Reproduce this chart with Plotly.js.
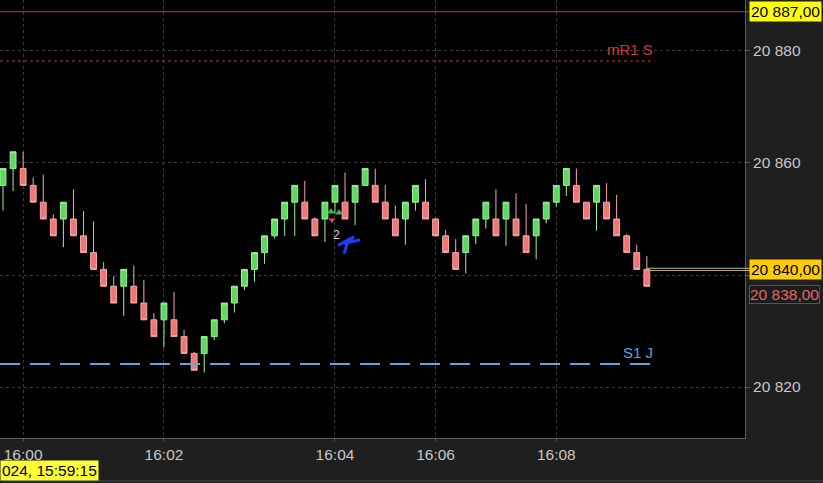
<!DOCTYPE html>
<html><head><meta charset="utf-8">
<script src="https://cdn.plot.ly/plotly-3.0.1.min.js"></script>
<style>html,body{margin:0;padding:0;background:#1f1f1f;overflow:hidden}#chart{width:823px;height:483px;}</style>
</head><body><div id="chart"></div>
<script>
// Renko-style bricks (3 points)
const openP  = [20856,20859,20859,20856,20853,20850,20850,20850,20847,20844,20841,20838,20838,20838,20835,20832,20832,20832,20829,20826,
                20826,20829,20832,20835,20838,20841,20844,20847,20850,20853,20853,20850,20850,20853,20853,20853,20856,20856,20853,20850,
                20850,20853,20853,20850,20847,20844,20844,20847,20850,20850,20850,20850,20847,20847,20850,20853,20856,20856,20853,20853,
                20853,20850,20847,20844,20841];
const closeP = [20859,20862,20856,20853,20850,20847,20853,20847,20844,20841,20838,20835,20841,20835,20832,20829,20835,20829,20826,20823,
                20829,20832,20835,20838,20841,20844,20847,20850,20853,20856,20850,20847,20853,20856,20850,20856,20859,20853,20850,20847,
                20853,20856,20850,20847,20844,20841,20847,20850,20853,20847,20853,20847,20844,20850,20853,20856,20859,20853,20850,20856,
                20850,20847,20844,20841,20838];
const highP  = [20859,20862,20862,20857.4,20857.9,20850.9,20853,20855.3,20851.4,20849.6,20842.3,20839.8,20841,20841.7,20839.1,20833.2,20835,20837,20830.2,20826.3,
                20829,20832,20835,20838,20841,20844,20847,20850,20853,20856,20856.8,20850.3,20853,20856,20858.3,20856,20859,20859,20856.1,20852.4,
                20853,20856,20857.1,20850.1,20848,20846.4,20847,20850,20853,20855.3,20853,20854.6,20852.7,20850,20853,20856,20859,20859,20853,20856,
                20856.4,20854.3,20847.3,20845.4,20843.4];
const lowP   = [20851.5,20855,20856,20853,20850,20847,20845,20847,20844,20841,20838,20835,20832.7,20835,20832,20829,20827.1,20829,20826,20823,
                20822.6,20828.4,20831.4,20833.3,20837.3,20838.8,20842,20846.5,20847,20847,20850,20847,20845.9,20851,20850,20848.9,20856,20853,20850,20847,
                20845.4,20851.5,20850,20847,20844,20841,20840.3,20845.5,20848.3,20847,20845.2,20847,20844,20842.8,20849.2,20852.2,20854.1,20853,20850,20847.9,
                20850,20847,20844,20841,20838];

const tickIdx  = [2, 16, 33, 43, 55];
const tickText = ["16:00", "16:02", "16:04", "16:06", "16:08"];
const yTicks   = [20820, 20840, 20860, 20880];
const yTickText = ["20 820", "", "20 860", "20 880"];   // 20 840 is covered by the price box

const topLine   = 20887;     // thin red line
const mR1Level  = 20878.2;   // mR1 S
const s1Level   = 20824.1;   // S1 J
const lastOpen  = 20841;     // price line at last brick
const lastClose = 20838;
const xRange = [-0.3, 73.76];
const yRange = [20810.9, 20889.1];

const idx = openP.map((_, i) => i);
const lastIdx = idx[idx.length - 1];
const levelEnd = 64.8;

// small markers near 16:04
const sigX = [32.6, 33.4], sigY = [20851.3, 20851.1];
const sigDownX = [32.7], sigDownY = [20849.8];
const scribX = [33.3, 34.9, 33.9, 35.5, null, 34.4, 33.9];
const scribY = [20845.3, 20846.8, 20845.6, 20846.3, null, 20846.6, 20843.8];

const candles = {
  type: 'candlestick', x: idx, open: openP, high: highP, low: lowP, close: closeP,
  increasing: {line: {color: '#9ef09e', width: 1}, fillcolor: '#5fd85f'},
  decreasing: {line: {color: '#f6aaaa', width: 1}, fillcolor: '#ee7676'},
  whiskerwidth: 0, hoverinfo: 'skip', showlegend: false
};
const sigUp = {type:'scatter', mode:'markers', x:sigX, y:sigY, marker:{symbol:'triangle-up', size:7, color:'#4caf50'}, hoverinfo:'skip', showlegend:false};
const sigDn = {type:'scatter', mode:'markers', x:sigDownX, y:sigDownY, marker:{symbol:'triangle-down', size:6, color:'#e05050'}, hoverinfo:'skip', showlegend:false};
const scrib = {type:'scatter', mode:'lines', x:scribX, y:scribY, line:{color:'#1a3cff', width:3}, connectgaps:false, hoverinfo:'skip', showlegend:false};

const pxX = v => (v - xRange[0]) / (xRange[1] - xRange[0]);
const F = 'Liberation Sans, Arial, sans-serif';

const layout = {
  width: 823, height: 483,
  margin: {l: 0, r: 78, t: 0, b: 45, pad: 0},
  paper_bgcolor: '#1f1f1f', plot_bgcolor: '#000000',
  showlegend: false, boxgap: 0.17,
  font: {family: F, color: '#c8c8c8', size: 15},
  xaxis: {
    range: xRange, rangeslider: {visible: false}, type: 'linear',
    tickmode: 'array', tickvals: tickIdx, ticktext: tickText,
    showgrid: true, gridcolor: '#3c3c3c', griddash: 'dot', gridwidth: 1,
    zeroline: false, showline: true, linecolor: '#5a5a5a', linewidth: 1,
    ticks: 'outside', ticklen: 2, tickcolor: '#5a5a5a',
    tickfont: {family: F, size: 15.5, color: '#c8c8c8'}, fixedrange: true
  },
  yaxis: {
    range: yRange, side: 'right',
    tickmode: 'array', tickvals: yTicks, ticktext: yTickText,
    showgrid: true, gridcolor: '#3c3c3c', griddash: 'dot', gridwidth: 1,
    zeroline: false, showline: true, linecolor: '#5a5a5a', linewidth: 1, mirror: false,
    ticks: 'outside', ticklen: 4, tickcolor: '#5a5a5a',
    tickfont: {family: F, size: 15.5, color: '#c8c8c8'}, fixedrange: true
  },
  shapes: [
    {type:'line', xref:'paper', yref:'y', x0:0, x1:1.008, y0:topLine, y1:topLine, line:{color:'#a8473c', width:1}},
    {type:'line', xref:'x', yref:'y', x0:xRange[0], x1:levelEnd, y0:mR1Level, y1:mR1Level, line:{color:'#d03a3a', width:1, dash:'3px,3px'}},
    {type:'line', xref:'x', yref:'y', x0:xRange[0], x1:levelEnd, y0:s1Level, y1:s1Level, line:{color:'#5aa8e0', width:2, dash:'20px,10px'}},
    {type:'line', xref:'paper', yref:'y', x0:pxX(lastIdx), x1:1.1, y0:lastOpen + 0.2, y1:lastOpen + 0.2, line:{color:'#8fd08f', width:1}},
    {type:'line', xref:'paper', yref:'y', x0:pxX(lastIdx), x1:1.1, y0:lastOpen - 0.2, y1:lastOpen - 0.2, line:{color:'#d0a070', width:1}},
    {type:'line', xref:'paper', yref:'paper', x0:0, x1:1.2, y0:-0.098, y1:-0.098, line:{color:'#4a4a4a', width:1}}
  ],
  annotations: [
    {xref:'x', yref:'y', x:levelEnd, y:mR1Level, xanchor:'right', yanchor:'bottom', yshift:1, text:'mR1 S', showarrow:false, font:{family:F, size:15, color:'#d03a3a'}},
    {xref:'x', yref:'y', x:levelEnd, y:s1Level, xanchor:'right', yanchor:'bottom', yshift:1, text:'S1 J', showarrow:false, font:{family:F, size:15, color:'#5aa8e0'}},
    {xref:'x', yref:'y', x:33.2, y:20847.2, text:'2', showarrow:false, font:{family:F, size:12, color:'#d8d8d8'}},
    {xref:'paper', yref:'y', x:1.005, y:topLine, xanchor:'left', yanchor:'middle', text:'20 887,00', showarrow:false, bgcolor:'#ffff00', borderpad:1, font:{family:F, size:15.5, color:'#000000'}},
    {xref:'paper', yref:'y', x:1.005, y:lastOpen, xanchor:'left', yanchor:'middle', text:'20 840,00', showarrow:false, bgcolor:'#ffcc00', borderpad:1, font:{family:F, size:15.5, color:'#000000'}},
    {xref:'paper', yref:'y', x:1.005, y:lastClose - 1.5, xanchor:'left', yanchor:'middle', text:'20 838,00', showarrow:false, bgcolor:'#1c1c1c', bordercolor:'#555555', borderwidth:1, borderpad:0, font:{family:F, size:15.5, color:'#e06a6a'}},
    {xref:'paper', yref:'paper', x:0, y:-0.1, xanchor:'left', yanchor:'bottom', yshift:1, text:'024, 15:59:15', showarrow:false, bgcolor:'#ffff33', borderpad:1, font:{family:F, size:15.5, color:'#000000'}}
  ]
};

Plotly.newPlot('chart', [candles, sigUp, sigDn, scrib], layout, {staticPlot: true, displayModeBar: false});
</script></body></html>
